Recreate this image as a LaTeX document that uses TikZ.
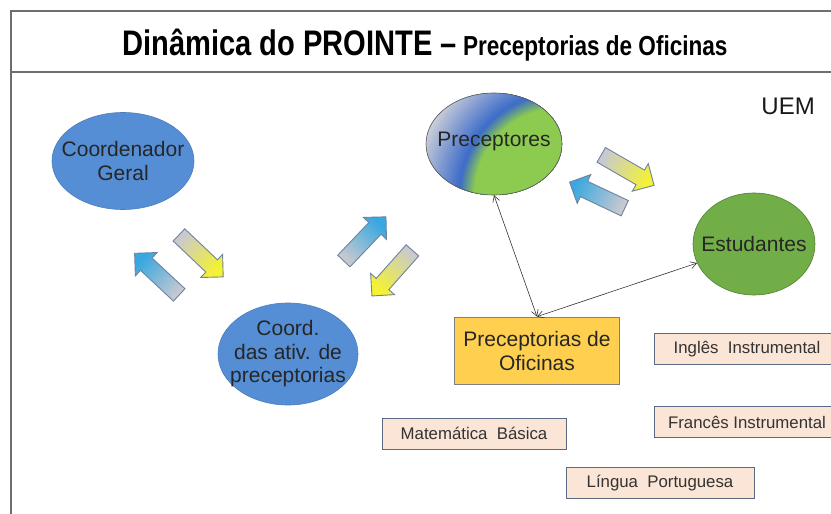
\documentclass[tikz,border=0pt]{standalone}
\usepackage{fontspec}
\setmainfont{Liberation Sans}
\newfontfamily\narrowfont[FakeStretch=0.82]{Liberation Sans}
\usetikzlibrary{shapes.geometric,shapes.arrows,arrows.meta}
\definecolor{framegray}{HTML}{6E6E6E}
\definecolor{ellblue}{HTML}{558ED5}
\definecolor{ellblueb}{HTML}{4A7EBB}
\definecolor{estgreen}{HTML}{72AE48}
\definecolor{estgreenb}{HTML}{4E7F30}
\definecolor{precgreen}{HTML}{8DCB50}
\definecolor{precblue}{HTML}{3C6BC8}
\definecolor{precgray}{HTML}{CDD0DA}
\definecolor{boxgold}{HTML}{FFD050}
\definecolor{peach}{HTML}{FBE5D6}
\definecolor{peachb}{HTML}{5A6A80}
\definecolor{arrgray}{HTML}{C8C9D0}
\definecolor{arryellow}{HTML}{F4F232}
\definecolor{arrblue}{HTML}{3AA8E0}
\definecolor{arrborder}{HTML}{6F82A0}
\tikzset{
  ell/.style={ellipse, inner sep=0pt},
  elltext/.style={inner sep=0pt, align=center, font=\fontsize{21}{23.5}\selectfont, text=black!85},
  blueell/.style={ell, fill=ellblue, draw=ellblueb, line width=0.6pt},
  smallbox/.style={rectangle, fill=peach, draw=peachb, line width=0.8pt, minimum height=31pt, inner sep=0pt, font=\fontsize{16.8}{19}\selectfont, text=black!80},
  blockarr/.style={single arrow, draw=arrborder, line width=0.9pt, minimum height=61pt, inner xsep=0pt, inner ysep=8pt, single arrow head extend=7.5pt},
  yarr/.style={blockarr, left color=arrgray, right color=arryellow, shading angle=#1},
  barr/.style={blockarr, left color=arrgray, right color=arrblue, shading angle=#1},
  conn/.style={{Straight Barb[length=6pt,width=7pt]}-{Straight Barb[length=6pt,width=7pt]}, line width=0.6pt, draw=black!80}
}
\begin{document}
\begin{tikzpicture}[x=1pt,y=-1pt]
\useasboundingbox (0,0) rectangle (831,514);
\clip (0,0) rectangle (831,514);
\fill[white] (0,0) rectangle (831,514);
% frame
\draw[framegray, line width=1.5pt] (11,520) -- (11,11) -- (840,11);
\draw[framegray, line width=1.5pt] (11,72) -- (840,72);
% title
\node[anchor=base west, inner sep=0pt, font=\narrowfont\bfseries] (title) at (122,56)
  {{\fontsize{35.5}{40}\selectfont Dinâmica do PROINTE –}\hspace{6pt}{\fontsize{27.5}{30}\selectfont Preceptorias de Oficinas}};
\node[anchor=base east, inner sep=0pt, font=\fontsize{24}{28}\selectfont, text=black!90] (uem) at (815,114) {UEM};
% ellipses
\node[blueell, minimum width=142pt, minimum height=97pt] (cg) at (123,161) {};
\node[elltext] (cgt) at (cg) {Coordenador\\Geral};
\node[blueell, minimum width=140pt, minimum height=102pt] (cap) at (288,354) {};
\node[elltext] (capt) at (cap) {Coord.\\das ativ. de\\preceptorias};
% Preceptores: corner gradient grey -> blue -> green
\begin{scope}
  \clip (494,144) ellipse [x radius=68pt, y radius=51pt];
  \fill[precgray] (420,88) rectangle (568,200);
  \foreach \r in {150,148,...,104} {
    \pgfmathtruncatemacro\p{min(100,max(0,(150-\r)/(150-103)*100))}
    \fill[precblue!\p!precgray] (562,195) circle [radius=\r pt];
  }
  \foreach \r in {102,100,...,90} {
    \pgfmathtruncatemacro\p{min(100,max(0,(\r-88)/(103-88)*100))}
    \fill[precblue!\p!precgreen] (562,195) circle [radius=\r pt];
  }
  \fill[precgreen] (562,195) circle [radius=88pt];
\end{scope}
\node[ell, draw=black!65, line width=0.6pt, minimum width=136pt, minimum height=102pt] (prec) at (494,144) {};
\node[elltext] (prect) at (494,141) {Preceptores};
\node[ell, fill=estgreen, draw=estgreenb, line width=0.6pt, minimum width=122pt, minimum height=102pt] (est) at (754,244) {};
\node[elltext] (estt) at (est) {Estudantes};
% main box
\node[rectangle, fill=boxgold, draw=black!50, line width=0.8pt, minimum width=165pt, minimum height=67pt, align=center, font=\fontsize{21}{24}\selectfont, text=black!85] (box) at (537,350.5) {Preceptorias de\\Oficinas};
% small boxes
\node[smallbox, minimum width=186pt] (ing) at (747,349) {Inglês \ Instrumental};
\node[smallbox, minimum width=186pt] (fra) at (747,422) {Francês Instrumental};
\node[smallbox, minimum width=184pt] (mat) at (474,433.5) {Matemática \ Básica};
\node[smallbox, minimum width=188pt] (lin) at (660,483) {Língua \ Portuguesa};
% block arrows (shading angle = direction + 90)
\node[yarr=46.5, rotate=-43.5] (a1) at (198,253) {};
\node[barr=227, rotate=137] (a2) at (160,277) {};
\node[barr=136.4, rotate=46.4] (a3) at (362,242) {};
\node[yarr=-41.6, rotate=-131.6] (a4) at (395,270) {};
\node[yarr=60, rotate=-30] (a5) at (624,168) {};
\node[barr=244.7, rotate=154.7] (a6) at (601,197) {};
% connectors
\draw[conn] (prec.south) -- (box.north);
\draw[conn] (est) -- (box.north);
\end{tikzpicture}
\end{document}
